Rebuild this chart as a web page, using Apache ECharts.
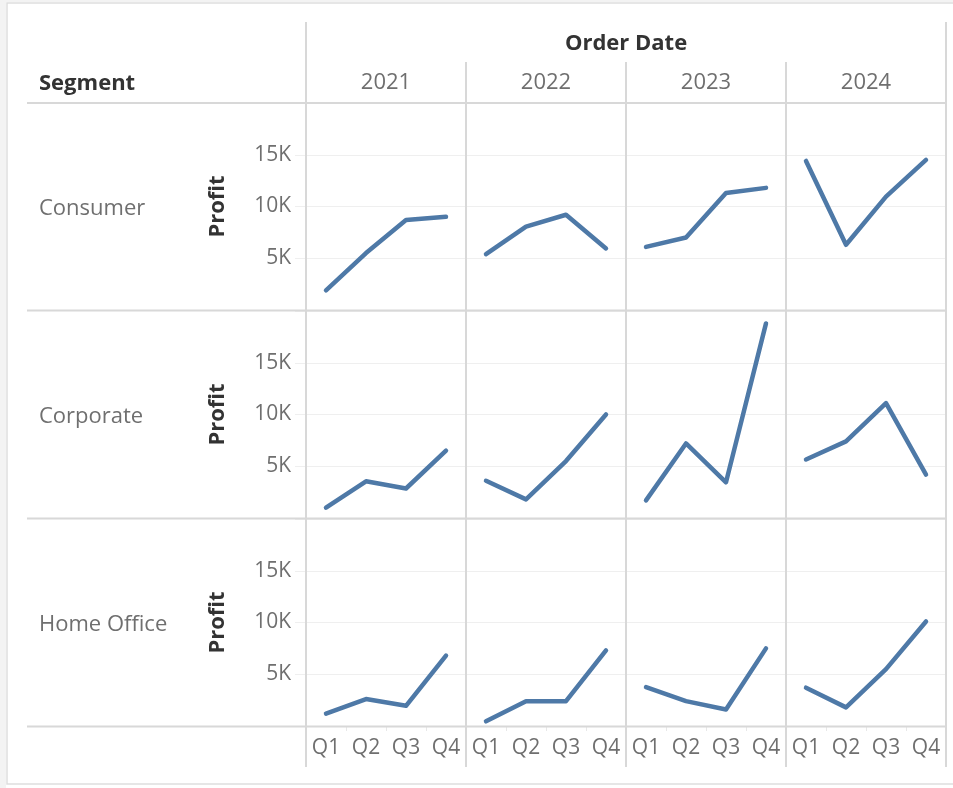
<!DOCTYPE html>
<html>
<head>
<meta charset="utf-8">
<script src="https://cdn.jsdelivr.net/npm/echarts@6/dist/echarts.min.js"></script>
<style>
  html, body { margin: 0; padding: 0; background: #fff; }
  #main { width: 953px; height: 788px; }
</style>
</head>
<body>
<div id="main"></div>
<script>
// data, 4 years x 4 quarters per segment
var segments = ['Consumer', 'Corporate', 'Home Office'];
var years = ['2021', '2022', '2023', '2024'];
var quarters = ['Q1', 'Q2', 'Q3', 'Q4'];
var consumerProfit = [1900, 5500, 8700, 9000, 5400, 8050, 9200, 5950, 6100, 7000, 11300, 11800, 14400, 6300, 10950, 14500];
var corporateProfit = [1000, 3550, 2850, 6500, 3600, 1800, 5500, 10000, 1700, 7200, 3450, 18800, 5650, 7400, 11100, 4200];
var homeOfficeProfit = [1200, 2600, 1950, 6800, 450, 2400, 2400, 7300, 3750, 2400, 1600, 7500, 3700, 1800, 5500, 10100];
var yTicks = [5000, 10000, 15000];

var profits = [consumerProfit, corporateProfit, homeOfficeProfit];

var chart = echarts.init(document.getElementById('main'));

var FONT = '"Open Sans", sans-serif';
var lineColor = '#d8d8d8';
var colLeft = 306, colW = 160, rowTop = 103, rowH = 208;

var grids = [], xAxes = [], yAxes = [], series = [];

for (var r = 0; r < segments.length; r++) {
    for (var c = 0; c < years.length; c++) {
        var idx = grids.length;
        grids.push({
            left: colLeft + c * colW,
            top: rowTop + r * rowH,
            width: colW,
            height: rowH - 1,
            containLabel: false
        });
        xAxes.push({
            type: 'category',
            gridIndex: idx,
            data: quarters,
            boundaryGap: true,
            axisLine: { show: false },
            axisTick: {
                show: r === segments.length - 1,
                length: 5,
                lineStyle: { color: '#e8e8e8' }
            },
            axisLabel: {
                show: r === segments.length - 1,
                margin: 12,
                color: '#6f6f6f',
                fontFamily: FONT,
                fontSize: 21
            },
            splitLine: { show: false }
        });
        yAxes.push({
            type: 'value',
            gridIndex: idx,
            min: 0,
            max: 20000,
            interval: 5000,
            name: c === 0 ? 'Profit' : '',
            nameLocation: 'middle',
            nameGap: 77,
            nameTextStyle: {
                color: '#333',
                fontFamily: FONT,
                fontWeight: 'bold',
                fontSize: 22
            },
            axisLine: { show: false },
            axisTick: {
                show: c === 0,
                length: 11,
                lineStyle: { color: '#efefef' }
            },
            axisLabel: {
                show: c === 0,
                margin: 15,
                color: '#6f6f6f',
                fontFamily: FONT,
                fontSize: 21,
                formatter: function (v) {
                    return yTicks.indexOf(v) >= 0 ? (v / 1000) + 'K' : '';
                }
            },
            splitLine: { show: true, lineStyle: { color: '#efefef', width: 1 } }
        });
        series.push({
            type: 'line',
            xAxisIndex: idx,
            yAxisIndex: idx,
            data: profits[r].slice(c * 4, c * 4 + 4),
            symbol: 'none',
            lineStyle: { color: '#4e79a7', width: 4.5, cap: 'round', join: 'round' },
            silent: true,
            animation: false
        });
    }
}

// header / separator lines
var graphics = [];
graphics.push({ type: 'rect', shape: { x: 0, y: 0, width: 6, height: 788 }, style: { fill: '#f3f3f3' }, z: 0 });
graphics.push({ type: 'rect', shape: { x: 0, y: 0, width: 953, height: 2 }, style: { fill: '#f3f3f3' }, z: 0 });
graphics.push({ type: 'rect', shape: { x: 7, y: 3, width: 980, height: 781 }, style: { fill: 'none', stroke: '#dedede', lineWidth: 1.5 }, z: 0 });

function hline(y, x1, x2) {
    graphics.push({ type: 'line', shape: { x1: x1, y1: y, x2: x2, y2: y }, style: { stroke: lineColor, lineWidth: 2 }, z: 5 });
}
function vline(x, y1, y2) {
    graphics.push({ type: 'line', shape: { x1: x, y1: y1, x2: x, y2: y2 }, style: { stroke: lineColor, lineWidth: 2 }, z: 5 });
}
hline(rowTop, 27, 946);
for (var i = 1; i <= 3; i++) hline(rowTop + i * rowH - 0.5, 27, 946);
vline(colLeft, 22, 767);
vline(colLeft + 4 * colW, 22, 767);
for (var j = 1; j < 4; j++) vline(colLeft + j * colW, 62, 767);

graphics.push({
    type: 'text', z: 10,
    style: { text: 'Order Date', x: colLeft + 2 * colW, y: 44, textAlign: 'center', textVerticalAlign: 'middle',
        fill: '#333', font: 'bold 22px ' + FONT }
});
graphics.push({
    type: 'text', z: 10,
    style: { text: 'Segment', x: 39, y: 84, textAlign: 'left', textVerticalAlign: 'middle',
        fill: '#333', font: 'bold 22px ' + FONT }
});
years.forEach(function (y, k) {
    graphics.push({
        type: 'text', z: 10,
        style: { text: y, x: colLeft + k * colW + colW / 2, y: 83, textAlign: 'center', textVerticalAlign: 'middle',
            fill: '#6f6f6f', font: '22px ' + FONT }
    });
});
segments.forEach(function (s, k) {
    graphics.push({
        type: 'text', z: 10,
        style: { text: s, x: 39, y: rowTop + k * rowH + rowH / 2 + 2, textAlign: 'left', textVerticalAlign: 'middle',
            fill: '#6f6f6f', font: '22px ' + FONT }
    });
});

chart.setOption({
    backgroundColor: '#fff',
    animation: false,
    grid: grids,
    xAxis: xAxes,
    yAxis: yAxes,
    series: series,
    graphic: graphics
});
</script>
</body>
</html>
